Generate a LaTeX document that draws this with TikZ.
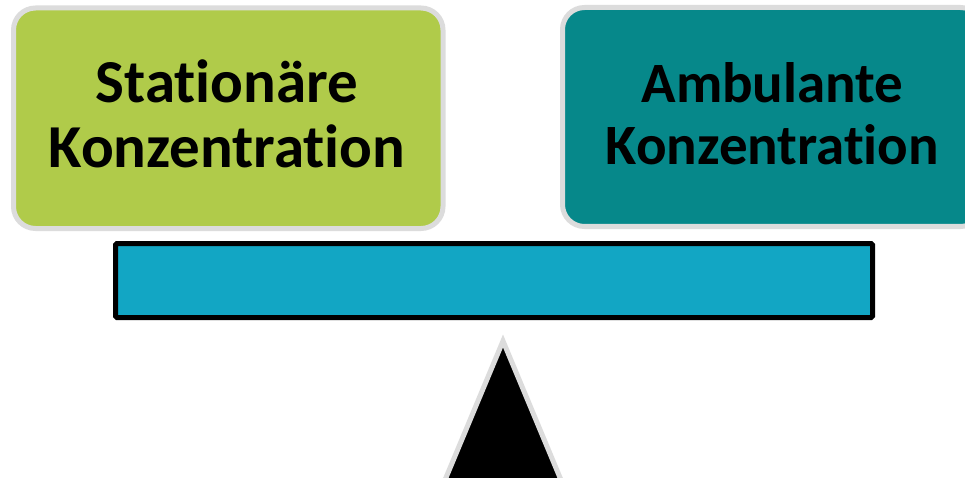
\documentclass[tikz,border=0pt]{standalone}
\usepackage{fontspec}
\setmainfont{Carlito}[Ligatures=NoCommon]
\definecolor{boxgreen}{HTML}{B0CB4A}
\definecolor{boxteal}{HTML}{06888A}
\definecolor{barblue}{HTML}{12A6C4}
\definecolor{rimgray}{HTML}{DCDCDC}
\tikzset{
  panel/.style={draw=rimgray, line width=5pt, rounded corners=22pt, inner sep=0pt},
  paneltext/.style={align=center, text=black, inner sep=0pt},
}
\begin{document}
\begin{tikzpicture}[x=1pt,y=-1pt]
\clip (0,0) rectangle (965,478);
\fill[white] (0,0) rectangle (965,478);
\node[panel, fill=boxgreen, minimum width=429.5pt, minimum height=220.5pt] (stat) at (228.25,118.25) {};
\node[paneltext, font=\bfseries\fontsize{61}{65}\selectfont] (statlabel) at (227,114)
  {Stationäre\\Konzentration};
\node[panel, fill=boxteal, minimum width=420pt, minimum height=219pt] (amb) at (772.5,117) {};
\node[paneltext, font=\bfseries\fontsize{57}{62}\selectfont] (amblabel) at (772.5,113.5)
  {Ambulante\\Konzentration};
\node[draw=black, fill=barblue, line width=5pt, rounded corners=1.5pt,
  minimum width=757pt, minimum height=74pt, inner sep=0pt] (bar) at (494,280.5) {};
\coordinate (apex) at (503,341);
\coordinate (bl) at (440,492);
\coordinate (br) at (566,492);
\draw[draw=rimgray, fill=black, line width=5pt, line join=miter] (apex) -- (bl) -- (br) -- cycle;
\end{tikzpicture}
\end{document}
